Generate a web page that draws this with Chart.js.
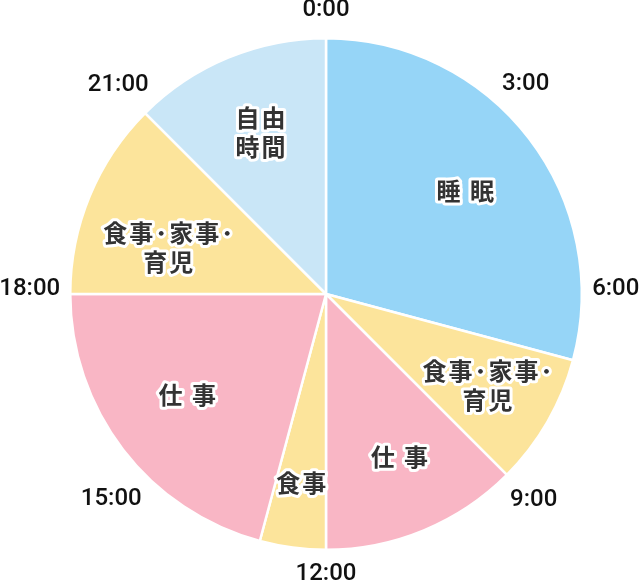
<!doctype html>
<html lang="ja">
<head>
<meta charset="UTF-8" />
<title>1日のスケジュール</title>
<style>
  html, body { margin: 0; padding: 0; background: #fff; }
  #wrap { width: 640px; height: 586px; }
</style>
</head>
<body>
<div id="wrap"><canvas id="dayChart" width="640" height="586"></canvas></div>
<script src="https://cdn.jsdelivr.net/npm/chart.js@4.4.1/dist/chart.umd.min.js"></script>
<script>
// slices, clockwise from 0:00 (hours)
const labels = ["睡 眠", "食事･家事･\n育児", "仕 事", "食事", "仕 事", "食事･家事･\n育児", "自由\n時間"];
const hours = [7, 2, 3, 1, 5, 3, 3];
const colors = ["#96d5f7", "#fce49b", "#f9b6c5", "#fce49b", "#f9b6c5", "#fce49b", "#c9e6f7"];
const clockTicks = ["0:00", "3:00", "6:00", "9:00", "12:00", "15:00", "18:00", "21:00"];

// where each slice name sits: share of the radius, and a small turn in degrees
const labelRadius = [0.677, 0.725, 0.697, 0.745, 0.671, 0.643, 0.681];
const labelTurn = [1, -0.5, -1.8, 0, 1.5, -6, 0.4];
// small hand nudges for the clock hours (px)
const tickNudgeX = [0, -8, -3.5, 0, 0, -7, -3, 0];
const tickNudgeY = [0, 0, -3, 0, 0, -1, -3, 1];

const pieLabels = {
    id: "pieLabels",
    afterDatasetsDraw(chart) {
        const ctx = chart.ctx;
        const arcs = chart.getDatasetMeta(0).data;
        if (!arcs.length) return;
        const cx = arcs[0].x;
        const cy = arcs[0].y;
        const r = arcs[0].outerRadius;

        ctx.save();
        ctx.textAlign = "center";
        ctx.textBaseline = "middle";
        ctx.lineJoin = "round";

        // slice names
        ctx.font = "bold 24px 'Noto Sans CJK JP', sans-serif";
        ctx.letterSpacing = "2px";
        arcs.forEach((arc, i) => {
            const mid = (arc.startAngle + arc.endAngle) / 2 + (labelTurn[i] * Math.PI) / 180;
            const pr = r * labelRadius[i];
            const x = cx + Math.cos(mid) * pr + 1;
            const y = cy + Math.sin(mid) * pr;
            const lines = labels[i].split("\n");
            const lh = 29;
            lines.forEach((line, j) => {
                const ly = y + (j - (lines.length - 1) / 2) * lh;
                ctx.lineWidth = 6;
                ctx.strokeStyle = "#ffffff";
                ctx.strokeText(line, x, ly);
                ctx.fillStyle = "#333333";
                ctx.fillText(line, x, ly);
            });
        });

        // clock hours
        ctx.letterSpacing = "0px";
        ctx.font = "500 24px Roboto, sans-serif";
        ctx.fillStyle = "#111111";
        clockTicks.forEach((t, i) => {
            const a = -Math.PI / 2 + (i / clockTicks.length) * Math.PI * 2;
            const c = Math.cos(a);
            const tr = r + 26.5 + 11 * c * c + 6 * Math.abs(Math.sin(2 * a));
            const x = cx + c * tr + tickNudgeX[i];
            const y = cy + Math.sin(a) * tr - 2 + tickNudgeY[i];
            ctx.fillText(t, x, y);
        });
        ctx.restore();
    },
};

new Chart(document.getElementById("dayChart"), {
    type: "pie",
    data: {
        labels: labels,
        datasets: [
            {
                data: hours,
                backgroundColor: colors,
                borderColor: "#ffffff",
                borderWidth: 2.5,
            },
        ],
    },
    options: {
        responsive: false,
        animation: false,
        layout: { padding: { top: 37, bottom: 35, left: 12, right: 0 } },
        plugins: {
            legend: { display: false },
            tooltip: { enabled: false },
        },
    },
    plugins: [pieLabels],
});
</script>
</body>
</html>
